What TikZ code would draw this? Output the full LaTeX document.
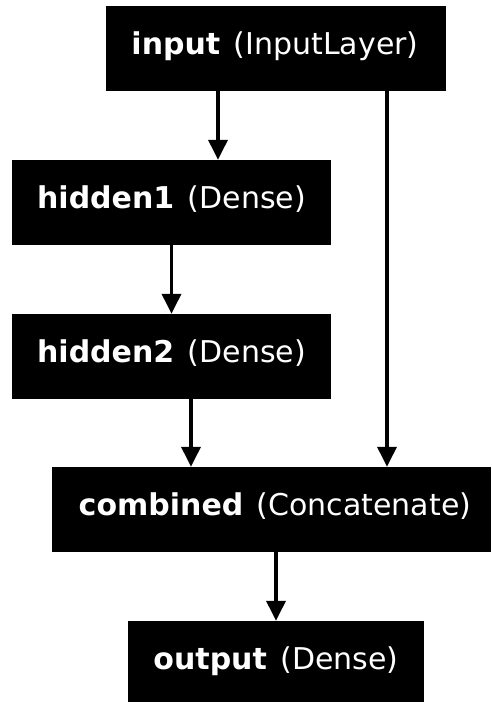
\documentclass[tikz,border=0pt]{standalone}
\usepackage{fontspec}
\setmainfont{DejaVu Sans}
\usetikzlibrary{arrows.meta}
\begin{document}
\begin{tikzpicture}[x=1pt,y=-1pt,
  box/.style={fill=black,draw=none,inner sep=0pt,minimum height=85pt},
  lbl/.style={text=white,anchor=base,inner sep=0pt,font=\fontsize{30}{35}\selectfont},
  arr/.style={line width=3.5pt,-{Triangle[width=19pt,length=20pt]}}]
\useasboundingbox (0,0) rectangle (491,702);
\node[box,minimum width=340pt] (input) at (276,48.5) {};
\node[box,minimum width=319pt] (hidden1) at (171.5,202.5) {};
\node[box,minimum width=319pt] (hidden2) at (171.5,356.5) {};
\node[box,minimum width=439pt] (combined) at (271.5,509.5) {};
\node[box,minimum width=296pt] (output) at (276,663.5) {};
\newcommand{\gapx}{\ \hspace{4pt}}
\node[lbl] (tinput) at (275,54) {\textbf{input}\gapx(InputLayer)};
\node[lbl] (thidden1) at (171.5,208) {\textbf{hidden1}\gapx(Dense)};
\node[lbl] (thidden2) at (171.5,362) {\textbf{hidden2}\gapx(Dense)};
\node[lbl] (tcombined) at (275,515) {\textbf{combined}\gapx(Concatenate)};
\node[lbl] (toutput) at (276,669) {\textbf{output}\gapx(Dense)};
\draw[arr] ([xshift=-58pt]input.south) -- ([xshift=46.5pt]hidden1.north);
\draw[arr] ([xshift=111pt]input.south) -- ([xshift=115.5pt]combined.north);
\draw[arr] (hidden1.south) -- (hidden2.north);
\draw[arr] ([xshift=19.5pt]hidden2.south) -- ([xshift=-80.5pt]combined.north);
\draw[arr] ([xshift=4.5pt]combined.south) -- (output.north);
\end{tikzpicture}
\end{document}
